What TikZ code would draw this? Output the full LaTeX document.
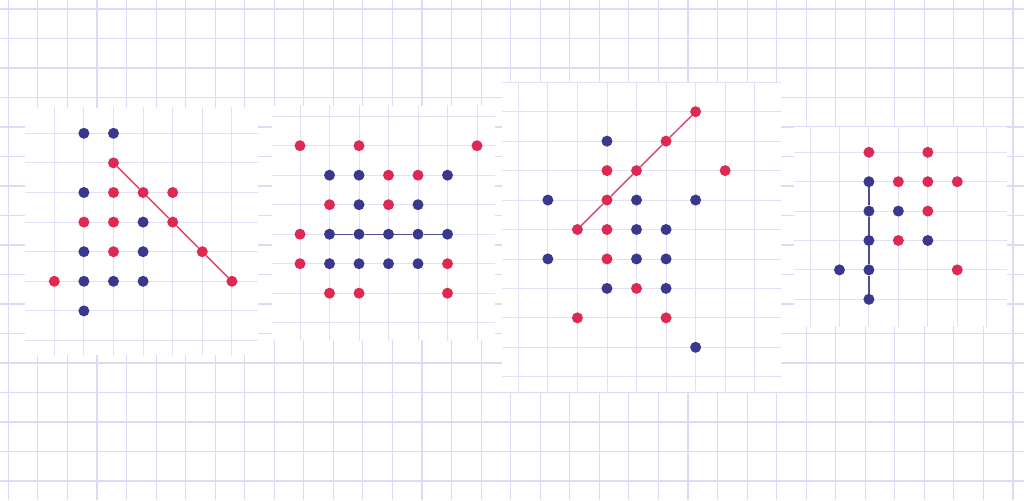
\documentclass[tikz,border=0pt]{standalone}
\usepackage{tikz}

\definecolor{penred}{RGB}{222,42,82}
\definecolor{penblue}{RGB}{58,56,140}
\definecolor{gridline}{RGB}{222,218,245}

\tikzset{
  bggrid/.style={draw=gridline, line width=1.1pt},
  cardgrid/.style={draw=gridline!85!white, line width=0.9pt},
  card/.style={fill=white},
  dot/.style={circle, inner sep=0pt, minimum size=11pt},
  rdot/.style={dot, fill=penred},
  bdot/.style={dot, fill=penblue},
  rline/.style={draw=penred!90!white, line width=1.4pt},
  bline/.style={draw=penblue!90!white, line width=1.2pt}
}

\begin{document}
\begin{tikzpicture}[x=1pt, y=-1pt]
    \useasboundingbox (0,0) rectangle (1024,500);
    \fill[white] (0,0) rectangle (1024,500);

    % Squared paper behind the cards
    \foreach \i in {0,...,34} {
        \draw[bggrid] ({8.3+29.55*\i},0) -- ++(0,500);
    }
    \foreach \j in {0,...,16} {
        \draw[bggrid] (0,{9+29.5*\j}) -- ++(1024,0);
    }

    % Card a: red diagonal going down
    \begin{scope}
        \clip (25,108) rectangle (258,355);
        \fill[card] (25,108) rectangle (258,355);
        \begin{scope}[shift={(54.3,133.3)}, x=29.6pt, y=-29.6pt]
            \foreach \i in {-1,...,7} {
                \draw[cardgrid] (\i,-1) -- (\i,9);
            }
            \foreach \j in {-1,...,8} {
                \draw[cardgrid] (-2,\j) -- (8,\j);
            }
            \foreach \x/\y in {1/0, 2/0, 1/2, 3/3, 1/4, 3/4, 1/5, 2/5, 3/5, 1/6} {
                \node[bdot] (a\x\y) at (\x,\y) {};
            }
            \foreach \x/\y in {2/1, 2/2, 3/2, 4/2, 1/3, 2/3, 4/3, 2/4, 5/4, 0/5, 6/5} {
                \node[rdot] (a\x\y) at (\x,\y) {};
            }
            \draw[rline] (a21) -- (a32) -- (a43) -- (a54) -- (a65);
        \end{scope}
    \end{scope}

    % Card b: blue row
    \begin{scope}
        \clip (272,106) rectangle (495,340);
        \fill[card] (272,106) rectangle (495,340);
        \begin{scope}[shift={(300,145.7)}, x=29.5pt, y=-29.5pt]
            \foreach \i in {-1,...,7} {
                \draw[cardgrid] (\i,-2) -- (\i,8);
            }
            \foreach \j in {-1,...,7} {
                \draw[cardgrid] (-2,\j) -- (8,\j);
            }
            \foreach \x/\y in {0/0, 2/0, 6/0, 3/1, 4/1, 1/2, 3/2, 0/3, 0/4, 5/4, 1/5, 2/5, 5/5} {
                \node[rdot] (b\x\y) at (\x,\y) {};
            }
            \foreach \x/\y in {1/1, 2/1, 5/1, 2/2, 4/2, 1/3, 2/3, 3/3, 4/3, 5/3, 1/4, 2/4, 3/4, 4/4} {
                \node[bdot] (b\x\y) at (\x,\y) {};
            }
            \draw[bline] (b13) -- (b23) -- (b33) -- (b43) -- (b53);
        \end{scope}
    \end{scope}

    % Card c: red diagonal going up
    \begin{scope}
        \clip (502,83) rectangle (781,392);
        \fill[card] (502,83) rectangle (781,392);
        \begin{scope}[shift={(518.3,111.7)}, x=29.55pt, y=-29.45pt]
            \foreach \i in {-1,...,9} {
                \draw[cardgrid] (\i,-2) -- (\i,11);
            }
            \foreach \j in {-1,...,10} {
                \draw[cardgrid] (-2,\j) -- (10,\j);
            }
            \foreach \x/\y in {6/0, 5/1, 3/2, 4/2, 7/2, 3/3, 2/4, 3/4, 3/5, 4/6, 2/7, 5/7} {
                \node[rdot] (c\x\y) at (\x,\y) {};
            }
            \foreach \x/\y in {3/1, 1/3, 4/3, 6/3, 4/4, 5/4, 1/5, 4/5, 5/5, 3/6, 5/6, 6/8} {
                \node[bdot] (c\x\y) at (\x,\y) {};
            }
            \draw[rline] (c24) -- (c33) -- (c42) -- (c51) -- (c60);
        \end{scope}
    \end{scope}

    % Card d: blue column
    \begin{scope}
        \clip (794,127) rectangle (1007,326);
        \fill[card] (794,127) rectangle (1007,326);
        \begin{scope}[shift={(810,152.3)}, x=29.45pt, y=-29.4pt]
            \foreach \i in {0,...,7} {
                \draw[cardgrid] (\i,-2) -- (\i,8);
            }
            \foreach \j in {-1,...,6} {
                \draw[cardgrid] (-2,\j) -- (8,\j);
            }
            \foreach \x/\y in {2/0, 4/0, 3/1, 4/1, 5/1, 4/2, 3/3, 5/4} {
                \node[rdot] (d\x\y) at (\x,\y) {};
            }
            \foreach \x/\y in {2/1, 2/2, 3/2, 2/3, 4/3, 1/4, 2/4, 2/5} {
                \node[bdot] (d\x\y) at (\x,\y) {};
            }
            \draw[bline] (d21) -- (d22) -- (d23) -- (d24) -- (d25);
        \end{scope}
    \end{scope}
\end{tikzpicture}
\end{document}
